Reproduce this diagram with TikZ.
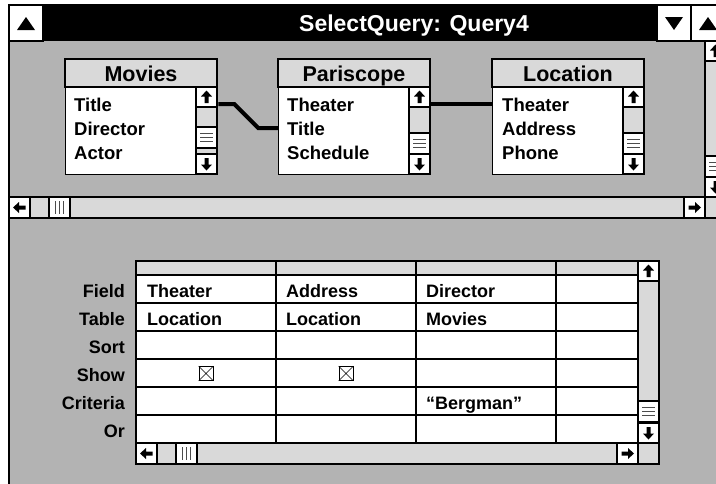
\documentclass[tikz,border=0pt]{standalone}
\usepackage{fontspec}
\setmainfont{Liberation Sans}
\definecolor{winbg}{HTML}{B3B3B3}
\definecolor{lightg}{HTML}{D9D9D9}
\tikzset{
 frame/.style={draw=black, line width=1.3pt},
 sbtrack/.style={draw=black, line width=1.2pt, fill=lightg},
 sbbtn/.style={draw=black, line width=1.2pt, fill=white},
 thumbline/.style={draw=black!70, line width=0.7pt},
 gridline/.style={draw=black, line width=1.1pt},
 joinline/.style={draw=black, line width=4pt},
 titletext/.style={text=white, font=\fontsize{23}{23}\selectfont\bfseries, inner sep=0pt, anchor=base},
 hdrtext/.style={font=\fontsize{21.5}{21.5}\selectfont\bfseries, inner sep=0pt, anchor=base},
 itemtext/.style={font=\fontsize{18.5}{18.5}\selectfont\bfseries, inner sep=0pt, anchor=base west},
 celltext/.style={font=\fontsize{18}{18}\selectfont\bfseries, inner sep=0pt, anchor=base west},
 rowlabel/.style={font=\fontsize{18}{18}\selectfont\bfseries, inner sep=0pt, anchor=base east},
 arrowpic/.pic={\fill[black] (0,-6.5) -- (5.5,-0.5) -- (2,-0.5) -- (2,6) -- (-2,6) -- (-2,-0.5) -- (-5.5,-0.5) -- cycle;},
 tbox/.style={draw=black, line width=1.3pt, fill=white, inner sep=0pt, minimum width=152pt, minimum height=115pt, anchor=north west},
 chk/.style={draw=black, line width=0.6pt, fill=white, inner sep=0pt, minimum size=14pt},
}
\newcommand\qvbar[4]{%
 \draw[sbtrack] (#1,#2) rectangle ({#1+21},#3);
 \draw[sbbtn] (#1,#2) rectangle ({#1+21},{#2+20});
 \draw[sbbtn] (#1,{#3-20}) rectangle ({#1+21},#3);
 \draw[sbbtn] (#1,#4) rectangle ({#1+21},{#4+21});
 \pic at ({#1+10.5},{#2+10}) {arrowpic};
 \pic[rotate=180] at ({#1+10.5},{#3-10}) {arrowpic};
 \foreach \d in {-4,0,4} {\draw[thumbline] ({#1+4},{#4+10.5+\d}) -- ({#1+17},{#4+10.5+\d});}
}
\newcommand\qhbar[4]{%
 \draw[sbtrack] (#1,#3) rectangle (#2,{#3+21});
 \draw[sbbtn] (#1,#3) rectangle ({#1+21},{#3+21});
 \draw[sbbtn] ({#2-21},#3) rectangle (#2,{#3+21});
 \draw[sbbtn] (#4,#3) rectangle ({#4+21},{#3+21});
 \pic[rotate=90] at ({#1+10.5},{#3+10.5}) {arrowpic};
 \pic[rotate=-90] at ({#2-10.5},{#3+10.5}) {arrowpic};
 \foreach \d in {-4,0,4} {\draw[thumbline] ({#4+10.5+\d},{#3+4}) -- ({#4+10.5+\d},{#3+17});}
}
\begin{document}
\begin{tikzpicture}[x=1pt,y=-1pt]
\clip (0,0) rectangle (716,483);
\fill[white] (0,0) rectangle (716,483);
\fill[winbg] (9,41) rectangle (730,490);
% title bar
\fill[black] (9,5) rectangle (730,41);
\draw[frame, fill=white] (9,5) rectangle (43,41);
\fill[black] (17,30) -- (35,30) -- (26,17) -- cycle;
\draw[frame, fill=white] (657,5) rectangle (691,41);
\fill[black] (665,17) -- (683,17) -- (674,30) -- cycle;
\draw[frame, fill=white] (691,5) rectangle (725,41);
\fill[black] (699,30) -- (717,30) -- (708,17) -- cycle;
\node[titletext] (title) at (414,31) {SelectQuery: Query4};
\draw[frame] (9,490) -- (9,5) -- (730,5);
% tables
\node[tbox] (movies) at (65,59) {};
\draw[frame, fill=lightg] (65,59) rectangle (217,87);
\node[hdrtext] (movies-h) at (141,81) {Movies};
\node[itemtext] (m1) at (74,111) {Title};
\node[itemtext] (m2) at (74,135) {Director};
\node[itemtext] (m3) at (74,159) {Actor};
\qvbar{196}{87}{174}{127}
\node[tbox] (parisc) at (278,59) {};
\draw[frame, fill=lightg] (278,59) rectangle (430,87);
\node[hdrtext] (parisc-h) at (354,81) {Pariscope};
\node[itemtext] (p1) at (287,111) {Theater};
\node[itemtext] (p2) at (287,135) {Title};
\node[itemtext] (p3) at (287,159) {Schedule};
\qvbar{409}{87}{174}{133}
\node[tbox] (locat) at (492,59) {};
\draw[frame, fill=lightg] (492,59) rectangle (644,87);
\node[hdrtext] (locat-h) at (568,81) {Location};
\node[itemtext] (l1) at (502,111) {Theater};
\node[itemtext] (l2) at (502,135) {Address};
\node[itemtext] (l3) at (502,159) {Phone};
\qvbar{623}{87}{174}{133}
% joins
\draw[joinline] ([yshift=-45pt]movies.north east) -- ++(16,0) -- ++(24,24) -- ([yshift=-69pt]parisc.north west);
\draw[joinline] ([yshift=-45pt]parisc.north east) -- ([yshift=-45pt]locat.north west);
% top pane scroll bars
\qvbar{705}{41}{197}{156}
\qhbar{9}{705}{197}{49}
\draw[sbtrack] (705,197) rectangle (730,218);
% grid
\fill[white] (136,275) rectangle (638,443);
\fill[lightg] (136,261) rectangle (638,275);
\foreach \yy in {275,303,331,359,387,415} {\draw[gridline] (136,\yy) -- (638,\yy);}
\foreach \xx in {276,416,556} {\draw[gridline] (\xx,261) -- (\xx,443);}
\draw[gridline] (136,261) rectangle (638,443);
\qvbar{638}{261}{443}{401}
\qhbar{136}{638}{443}{176}
\draw[sbtrack] (638,443) rectangle (659,464);
% row labels
\node[rowlabel] (r1) at (125,297) {Field};
\node[rowlabel] (r2) at (125,325) {Table};
\node[rowlabel] (r3) at (125,353) {Sort};
\node[rowlabel] (r4) at (125,381) {Show};
\node[rowlabel] (r5) at (125,409) {Criteria};
\node[rowlabel] (r6) at (125,437) {Or};
% cells
\node[celltext] (c11) at (147,297) {Theater};
\node[celltext] (c12) at (286,297) {Address};
\node[celltext] (c13) at (426,297) {Director};
\node[celltext] (c21) at (147,325) {Location};
\node[celltext] (c22) at (286,325) {Location};
\node[celltext] (c23) at (426,325) {Movies};
\node[celltext] (c53) at (426,409) {“Bergman”};
\node[chk] (k1) at (206,373.5) {};
\draw[line width=0.6pt] (k1.north west) -- (k1.south east) (k1.north east) -- (k1.south west);
\node[chk] (k2) at (346,373.5) {};
\draw[line width=0.6pt] (k2.north west) -- (k2.south east) (k2.north east) -- (k2.south west);
\end{tikzpicture}
\end{document}
